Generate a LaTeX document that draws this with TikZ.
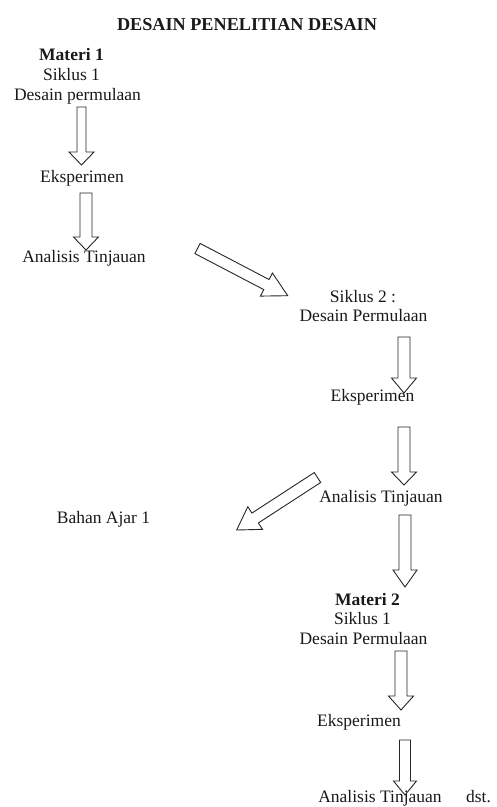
\documentclass[tikz,border=0pt]{standalone}
\usepackage{fontspec}
\setmainfont{Liberation Serif}
\usetikzlibrary{calc}
\tikzset{
  txt/.style={anchor=base, inner sep=0pt, font=\fontsize{17.5}{20}\selectfont, text=black!90},
  btxt/.style={txt, font=\fontsize{17.5}{20}\selectfont\bfseries},
  blockarr/.style={draw=black!85, line width=0.9pt, line join=miter},
}
\newcommand\blockarrow[5]{%
  \coordinate (ba-h) at ($(#2)!#5!(#1)$);
  \draw[blockarr] ($(#1)!#3!90:(#2)$) -- ($(ba-h)!#3!90:(#2)$) -- ($(ba-h)!#4!90:(#2)$) -- (#2)
     -- ($(ba-h)!#4!-90:(#2)$) -- ($(ba-h)!#3!-90:(#2)$) -- ($(#1)!#3!-90:(#2)$) -- cycle;}
\begin{document}
\begin{tikzpicture}[x=1pt,y=-1pt]
\useasboundingbox (0,0) rectangle (496,807);
% texts
\node[btxt, font=\fontsize{18.2}{20}\selectfont\bfseries] (title) at (247,30) {DESAIN PENELITIAN DESAIN};
\node[btxt] (m1) at (71.5,60) {Materi 1};
\node[txt] (s1) at (71.5,80) {Siklus 1};
\node[txt] (dp1) at (77.5,100) {Desain permulaan};
\node[txt] (e1) at (82,182) {Eksperimen};
\node[txt] (at1) at (84,262) {Analisis Tinjauan};
\node[txt] (s2) at (363,302) {Siklus 2 :};
\node[txt] (dp2) at (363.5,321) {Desain Permulaan};
\node[txt] (e2) at (372.5,401) {Eksperimen};
\node[txt] (at2) at (381,502) {Analisis Tinjauan};
\node[txt] (ba1) at (103.5,523) {Bahan Ajar 1};
\node[btxt] (m2) at (367.5,605) {Materi 2};
\node[txt] (s3) at (362.5,624) {Siklus 1};
\node[txt] (dp3) at (363.5,644) {Desain Permulaan};
\node[txt] (e3) at (359,726) {Eksperimen};
\node[txt] (at3) at (380,802) {Analisis Tinjauan};
\node[txt] (dst) at (478.5,802) {dst.};
% arrow end points
\coordinate (a1s) at (81.5,107); \coordinate (a1e) at (81.5,165);
\coordinate (a2s) at (86,193);   \coordinate (a2e) at (86,250);
\coordinate (d1s) at (197.5,248.5); \coordinate (d1e) at (287.7,295.7);
\coordinate (a3s) at (404,337);  \coordinate (a3e) at (404,393);
\coordinate (a4s) at (404,427);  \coordinate (a4e) at (404,485);
\coordinate (d2s) at (317.5,477.5); \coordinate (d2e) at (236.7,530);
\coordinate (a5s) at (405,515);  \coordinate (a5e) at (405,587);
\coordinate (a6s) at (401,651);  \coordinate (a6e) at (401,710);
\coordinate (a7s) at (405,740);  \coordinate (a7e) at (405,795);
% arrows
\blockarrow{a1s}{a1e}{4.5pt}{12.5pt}{13pt}
\blockarrow{a2s}{a2e}{6pt}{12.5pt}{13pt}
\blockarrow{d1s}{d1e}{5.7pt}{13pt}{24pt}
\blockarrow{a3s}{a3e}{6pt}{12.5pt}{15pt}
\blockarrow{a4s}{a4e}{6pt}{12.5pt}{13pt}
\blockarrow{d2s}{d2e}{5.9pt}{13.5pt}{22pt}
\blockarrow{a5s}{a5e}{6pt}{12pt}{17pt}
\blockarrow{a6s}{a6e}{6pt}{12.5pt}{14pt}
\blockarrow{a7s}{a7e}{5.5pt}{11.5pt}{14pt}
\end{tikzpicture}
\end{document}
